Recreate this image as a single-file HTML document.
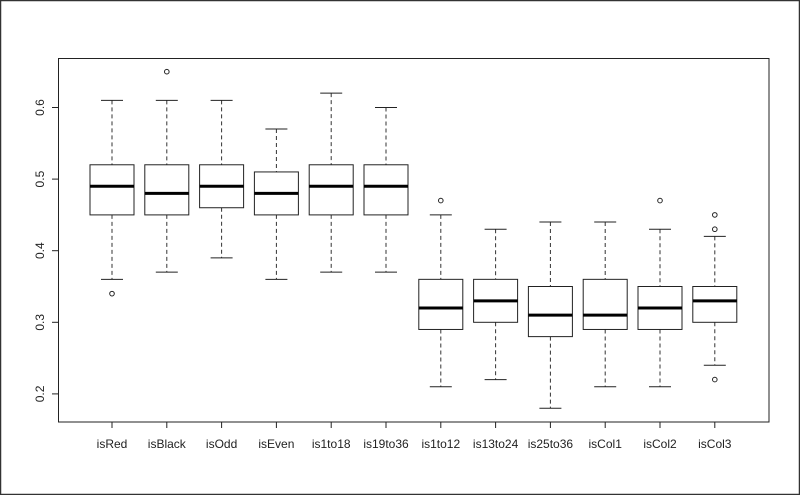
<!DOCTYPE html>
<html><head><meta charset="utf-8"><style>
html,body{margin:0;padding:0;background:#fff}
svg{display:block}
text{font-family:"Liberation Sans",Arial,sans-serif;font-size:12px;fill:#222}
</style></head><body>
<svg id="s" width="800" height="495" viewBox="0 0 800 495" xmlns="http://www.w3.org/2000/svg">
<rect x="0.5" y="0.5" width="799" height="494" fill="#fff" stroke="#333" stroke-width="1.5"/>
<rect x="58.5" y="58.5" width="710.5" height="363.5" fill="none" stroke="#222" stroke-width="1"/>
</svg>
<script>
var s=document.getElementById('s'),NS='http://www.w3.org/2000/svg';
function el(t,a,txt){var e=document.createElementNS(NS,t);for(var k in a)e.setAttribute(k,a[k]);if(txt!==undefined)e.textContent=txt;s.appendChild(e);return e;}
function Y(v){return 107.5+(0.6-v)*716;}
var d=[
["isRed",.36,.45,.49,.52,.61,[.34]],
["isBlack",.37,.45,.48,.52,.61,[.65]],
["isOdd",.39,.46,.49,.52,.61,[]],
["isEven",.36,.45,.48,.51,.57,[]],
["is1to18",.37,.45,.49,.52,.62,[]],
["is19to36",.37,.45,.49,.52,.60,[]],
["is1to12",.21,.29,.32,.36,.45,[.47]],
["is13to24",.22,.30,.33,.36,.43,[]],
["is25to36",.18,.28,.31,.35,.44,[]],
["isCol1",.21,.29,.31,.36,.44,[]],
["isCol2",.21,.29,.32,.35,.43,[.47]],
["isCol3",.24,.30,.33,.35,.42,[.45,.43,.22]]];
d.forEach(function(r,i){
 var x=112+i*54.8;
 el('line',{x1:x,y1:Y(r[5]),x2:x,y2:Y(r[4]),stroke:'#333','stroke-dasharray':'4,3'});
 el('line',{x1:x,y1:Y(r[2]),x2:x,y2:Y(r[1]),stroke:'#333','stroke-dasharray':'4,3'});
 el('line',{x1:x-11,y1:Y(r[5]),x2:x+11,y2:Y(r[5]),stroke:'#222'});
 el('line',{x1:x-11,y1:Y(r[1]),x2:x+11,y2:Y(r[1]),stroke:'#222'});
 el('rect',{x:x-22,y:Y(r[4]),width:44,height:Y(r[2])-Y(r[4]),fill:'#fff',stroke:'#222'});
 el('line',{x1:x-22,y1:Y(r[3]),x2:x+22,y2:Y(r[3]),stroke:'#000','stroke-width':3});
 r[6].forEach(function(o){el('circle',{cx:x,cy:Y(o),r:2.3,fill:'none',stroke:'#222'});});
 el('line',{x1:x,y1:422,x2:x,y2:428,stroke:'#222'});
 el('text',{x:x,y:448,'text-anchor':'middle'},r[0]);
});
[0.2,0.3,0.4,0.5,0.6].forEach(function(v){
 var y=Y(v);
 el('line',{x1:52,y1:y,x2:58,y2:y,stroke:'#222'});
 el('text',{x:0,y:0,'text-anchor':'middle',transform:'translate(44,'+y+') rotate(-90)'},v.toFixed(1));
});
</script>
</body></html>
